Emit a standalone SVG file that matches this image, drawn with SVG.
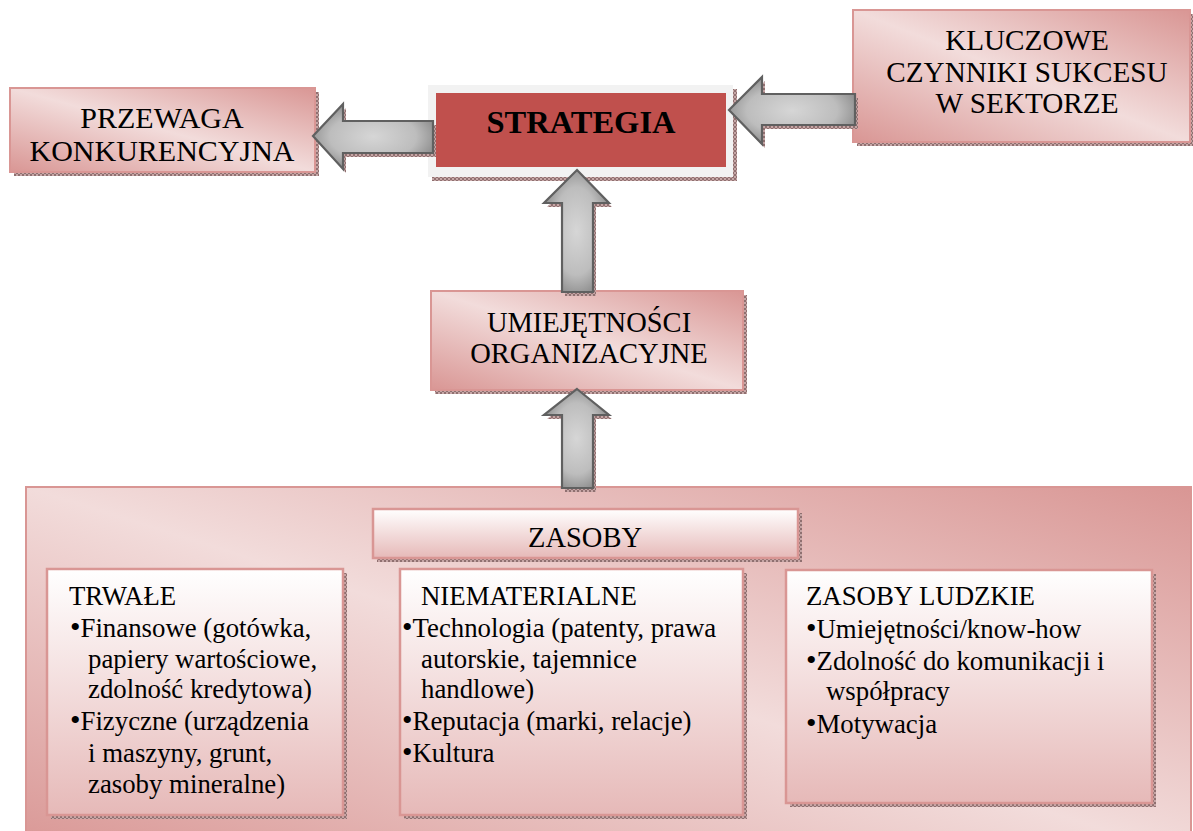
<svg xmlns="http://www.w3.org/2000/svg" width="1193" height="831" viewBox="0 0 1193 831">
<defs>
<style>
text{font-family:'Liberation Serif','Times New Roman',serif;fill:#000}
.big{font-size:29.2px}
.sm{font-size:26.8px}
.bl{font-size:30px}
.bd{fill:url(#gDiag);stroke:#d99694;stroke-width:2}
.inner{fill:url(#gVert);stroke:#d99694;stroke-width:2.5}
.shadow{fill:url(#hatch)}
.arrow{fill:url(#gArrow);stroke:#606060;stroke-width:2.2;stroke-linejoin:miter}
</style>
<pattern id="hatch" width="4" height="4" patternUnits="userSpaceOnUse">
<rect width="4" height="4" fill="#c6a6a6"/>
<rect width="2" height="2" fill="#8f7070"/>
<rect x="2" y="2" width="2" height="2" fill="#8f7070"/>
</pattern>
<linearGradient id="gDiag" x1="1" y1="0" x2="0" y2="1">
<stop offset="0" stop-color="#d99694"/>
<stop offset="0.5" stop-color="#f2dcdb"/>
<stop offset="1" stop-color="#d99694"/>
</linearGradient>
<linearGradient id="gVert" x1="0" y1="0" x2="0" y2="1">
<stop offset="0" stop-color="#ffffff"/>
<stop offset="1" stop-color="#e6b9b8"/>
</linearGradient>
<radialGradient id="gArrow" cx="0.5" cy="0.5" r="0.6">
<stop offset="0" stop-color="#d6d6d6"/>
<stop offset="0.6" stop-color="#bdbdbd"/>
<stop offset="1" stop-color="#808080"/>
</radialGradient>
</defs>
<rect width="1193" height="831" fill="#ffffff"/>

<g id="zasoby-panel">
<rect x="26" y="487" width="1165" height="370" class="bd"/>
</g>

<g id="przewaga">
<rect x="14" y="92" width="305" height="84" class="shadow"/>
<rect x="10" y="88" width="305" height="84" class="bd"/>
<text class="big" text-anchor="middle" style="font-size:30px"><tspan x="162" y="128">PRZEWAGA</tspan><tspan x="162" y="161">KONKURENCYJNA</tspan></text>
</g>

<g id="strategia">
<rect x="432" y="89" width="305" height="92" class="shadow"/>
<rect x="428" y="85" width="305" height="92" fill="#f2f2f2"/>
<rect x="436" y="93" width="290" height="74" fill="#c0504d"/>
<text x="581" y="133" text-anchor="middle" font-size="32.5" font-weight="bold">STRATEGIA</text>
</g>

<g id="kluczowe">
<rect x="857" y="14" width="337" height="132" class="shadow"/>
<rect x="853" y="10" width="337" height="132" class="bd"/>
<text class="big" text-anchor="middle"><tspan x="1027" y="50">KLUCZOWE</tspan><tspan x="1027" y="82">CZYNNIKI SUKCESU</tspan><tspan x="1027" y="113">W SEKTORZE</tspan></text>
</g>

<g id="umiejetnosci">
<rect x="435" y="295" width="312" height="99" class="shadow"/>
<rect x="431" y="291" width="312" height="99" class="bd"/>
<text text-anchor="middle" font-size="28.5"><tspan x="589" y="332">UMIEJĘTNOŚCI</tspan><tspan x="589" y="363">ORGANIZACYJNE</tspan></text>
</g>

<g id="zasoby-header">
<rect x="377" y="513" width="425" height="49" class="shadow"/>
<rect x="373" y="509" width="425" height="49" class="inner"/>
<text x="585" y="547" text-anchor="middle" font-size="28.5">ZASOBY</text>
</g>

<g id="trwale">
<rect x="51" y="573" width="296" height="246" class="shadow"/>
<rect x="47" y="569" width="296" height="246" class="inner"/>
<text class="sm"><tspan x="69" y="605">TRWAŁE</tspan><tspan x="70" y="637" class="bl">•</tspan><tspan>Finansowe (gotówka,</tspan><tspan x="88" y="668">papiery wartościowe,</tspan><tspan x="88" y="698">zdolność kredytowa)</tspan><tspan x="70" y="730" class="bl">•</tspan><tspan>Fizyczne (urządzenia</tspan><tspan x="88" y="762">i maszyny, grunt,</tspan><tspan x="88" y="793">zasoby mineralne)</tspan></text>
</g>

<g id="niematerialne">
<rect x="404" y="573" width="343" height="246" class="shadow"/>
<rect x="400" y="569" width="343" height="246" class="inner"/>
<text class="sm"><tspan x="421" y="605">NIEMATERIALNE</tspan><tspan x="402" y="637" class="bl">•</tspan><tspan>Technologia (patenty, prawa</tspan><tspan x="421" y="668">autorskie, tajemnice</tspan><tspan x="421" y="698">handlowe)</tspan><tspan x="402" y="730" class="bl">•</tspan><tspan>Reputacja (marki, relacje)</tspan><tspan x="402" y="762" class="bl">•</tspan><tspan>Kultura</tspan></text>
</g>

<g id="ludzkie">
<rect x="790" y="574" width="366" height="233" class="shadow"/>
<rect x="786" y="570" width="366" height="233" class="inner"/>
<text class="sm"><tspan x="806" y="605">ZASOBY LUDZKIE</tspan><tspan x="806" y="638" class="bl">•</tspan><tspan>Umiejętności/know-how</tspan><tspan x="806" y="670" class="bl">•</tspan><tspan>Zdolność do komunikacji i</tspan><tspan x="826" y="700">współpracy</tspan><tspan x="806" y="733" class="bl">•</tspan><tspan>Motywacja</tspan></text>
</g>

<g id="connectors">
<g transform="translate(3,4)" class="shadow">
<polygon points="313,136 343,104 343,121 433,121 433,153 343,153 343,169"/>
<polygon points="729,110 762,77 762,94 855,94 855,125 762,125 762,144"/>
<polygon points="577,170 609,203 593,203 593,292 562,292 562,203 544,203"/>
<polygon points="577,389 609,415 593,415 593,488 562,488 562,415 544,415"/>
</g>
<polygon class="arrow" points="313,136 343,104 343,121 433,121 433,153 343,153 343,169"/>
<polygon class="arrow" points="729,110 762,77 762,94 855,94 855,125 762,125 762,144"/>
<polygon class="arrow" points="577,170 609,203 593,203 593,292 562,292 562,203 544,203"/>
<polygon class="arrow" points="577,389 609,415 593,415 593,488 562,488 562,415 544,415"/>
</g>
</svg>
